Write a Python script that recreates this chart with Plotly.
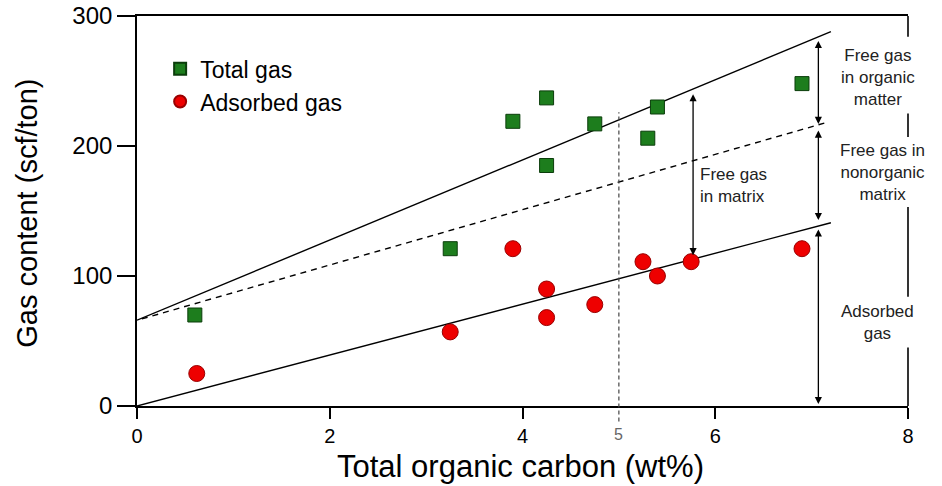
import plotly.graph_objects as go

# ---- data ----
toc_total = [0.6, 3.25, 3.9, 4.25, 4.25, 4.75, 5.3, 5.4, 6.9]
gas_total = [70, 121, 219, 237, 185, 217, 206, 230, 248]

toc_ads = [0.62, 3.25, 3.9, 4.25, 4.25, 4.75, 5.25, 5.4, 5.75, 6.9]
gas_ads = [25, 57, 121, 90, 68, 78, 111, 100, 111, 121]

# trend lines (end points)
upper_x = [0, 7.2]
upper_y = [66, 288]
dash_x = [0.05, 7.15]
dash_y = [67, 218]
lower_x = [0, 7.2]
lower_y = [0, 141]

x_ticks = [0, 2, 4, 6, 8]
y_ticks = [0, 100, 200, 300]

FONT = "Arial, Liberation Sans, sans-serif"

fig = go.Figure()
fig.add_trace(go.Scatter(x=upper_x, y=upper_y, mode="lines",
                         line=dict(color="black", width=1.4), showlegend=False, hoverinfo="skip"))
fig.add_trace(go.Scatter(x=dash_x, y=dash_y, mode="lines",
                         line=dict(color="black", width=1.4, dash="6px,5px"), showlegend=False, hoverinfo="skip"))
fig.add_trace(go.Scatter(x=lower_x, y=lower_y, mode="lines",
                         line=dict(color="black", width=1.4), showlegend=False, hoverinfo="skip"))

fig.add_trace(go.Scatter(x=toc_total, y=gas_total, mode="markers", name="Total gas",
                         marker=dict(symbol="square", size=14, color="#1d7d1d",
                                     line=dict(color="#0b3d0b", width=1))))
fig.add_trace(go.Scatter(x=toc_ads, y=gas_ads, mode="markers", name="Adsorbed gas",
                         marker=dict(symbol="circle", size=16, color="#ee0000",
                                     line=dict(color="#990000", width=1))))

# vertical dotted line at TOC = 5 (paper coords so it can run below the axis)
xmax = 8.0
ymax = 300.0
fig.add_shape(type="line", xref="paper", yref="paper",
              x0=5 / xmax, x1=5 / xmax, y0=-0.04, y1=226 / ymax,
              line=dict(color="#444444", width=1.2, dash="4px,3px"))

# right border with gaps for the labels
for y0, y1 in [(284, 300), (207, 225), (84, 153), (0, 45)]:
    fig.add_shape(type="line", xref="paper", yref="paper", x0=1, x1=1,
                  y0=y0 / ymax, y1=y1 / ymax, line=dict(color="black", width=1.6))

annotations = []
# arrows
for x, ya, yb in [(5.77, 241, 116), (7.07, 282, 217), (7.07, 213, 143), (7.07, 137, 1.5)]:
    annotations.append(dict(x=x, y=yb, ax=x, ay=ya, xref="x", yref="y", axref="x", ayref="y",
                            text="", showarrow=True, arrowhead=2, startarrowhead=2,
                            arrowside="end+start", arrowsize=1.1, startarrowsize=1.1,
                            arrowwidth=1.3, arrowcolor="black"))

label_font = dict(family=FONT, size=17, color="#222222")
annotations += [
    dict(x=5.82, y=170, xref="x", yref="y", text="Free gas<br>in matrix", showarrow=False,
         xanchor="left", align="left", font=label_font),
    dict(x=7.69, y=253, xref="x", yref="y", text="Free gas<br>in organic<br>matter", showarrow=False,
         xanchor="center", align="center", font=label_font),
    dict(x=7.74, y=180, xref="x", yref="y", text="Free gas in<br>nonorganic<br>matrix", showarrow=False,
         xanchor="center", align="center", font=label_font),
    dict(x=7.68, y=64, xref="x", yref="y", text="Adsorbed<br>gas", showarrow=False,
         xanchor="center", align="center", font=label_font),
    dict(x=5 / xmax, y=-0.045, xref="paper", yref="paper", text="5", showarrow=False,
         xanchor="center", yanchor="top", font=dict(family=FONT, size=16, color="#666666")),
    # axis titles
    dict(x=0.497, y=-0.155, xref="paper", yref="paper", text="Total organic carbon (wt%)",
         showarrow=False, xanchor="center", yanchor="middle",
         font=dict(family=FONT, size=31, color="black")),
    dict(x=-0.143, y=0.495, xref="paper", yref="paper", text="Gas content (scf/ton)",
         showarrow=False, xanchor="center", yanchor="middle", textangle=-90,
         font=dict(family=FONT, size=29, color="black")),
]

fig.update_layout(
    width=942, height=486,
    margin=dict(l=137, r=34, t=16, b=80, autoexpand=False),
    paper_bgcolor="white", plot_bgcolor="white",
    font=dict(family=FONT, color="black"),
    showlegend=True,
    legend=dict(x=0.03, y=0.92, xanchor="left", yanchor="top",
                font=dict(family=FONT, size=23, color="black"),
                bgcolor="rgba(0,0,0,0)", itemsizing="constant", tracegroupgap=0),
    annotations=annotations,
    xaxis=dict(range=[0, xmax], tickvals=x_ticks, showgrid=False, zeroline=False,
               automargin=False,
               showline=True, linecolor="black", linewidth=1.6, mirror=True,
               ticks="outside", ticklen=11, tickwidth=1.6, tickcolor="black",
               tickfont=dict(family=FONT, size=20, color="black")),
    yaxis=dict(range=[0, ymax], tickvals=y_ticks, showgrid=False, zeroline=False,
               automargin=False,
               showline=True, linecolor="black", linewidth=1.6, mirror=False,
               ticks="outside", ticklen=18, tickwidth=1.6, tickcolor="black",
               tickfont=dict(family=FONT, size=24, color="black")),
)

# remove the browser's default 8px page margin so the figure fills the window exactly
fig.write_html("out.html", config={"displayModeBar": False},
               post_script="document.body.style.margin='0';document.body.style.overflow='hidden';")
